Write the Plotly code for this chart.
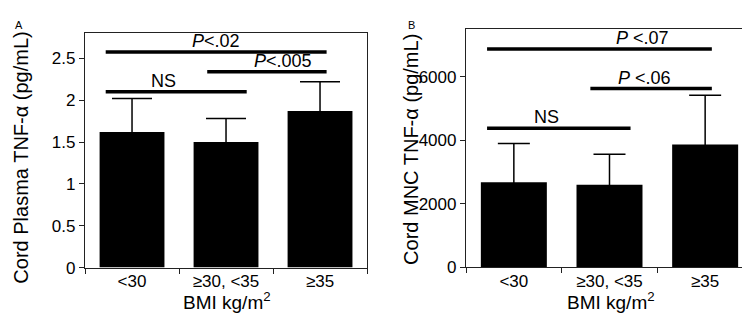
import plotly.graph_objects as go

# ---- data ----
categories = ["<30", "≥30, <35", "≥35"]
plasma_mean = [1.62, 1.50, 1.87]
plasma_err = [0.40, 0.28, 0.35]
mnc_mean = [2680, 2600, 3870]
mnc_err = [1220, 960, 1550]

plasma_bracket_labels = ["<i>P</i>&lt;.02", "<i>P</i>&lt;.005", "NS"]
plasma_bracket_heights = [2.575, 2.34, 2.10]
mnc_bracket_labels = ["<i>P</i> &lt;.07", "<i>P</i> &lt;.06", "NS"]
mnc_bracket_heights = [6880, 5630, 4380]

# bracket spans (category-index units) and label x positions
bracket_spans = [(-0.28, 2.07), (0.80, 2.07), (-0.28, 1.22)]
plasma_label_x = [0.89, 1.61, 0.33]
mnc_label_x = [1.34, 1.37, 0.34]

FONT = "Liberation Sans, Arial, Helvetica, sans-serif"

fig = go.Figure()
fig.add_trace(go.Bar(
    x=categories, y=plasma_mean, width=0.69, marker=dict(color="black", line=dict(width=0)),
    error_y=dict(type="data", array=plasma_err, symmetric=True,
                 color="black", thickness=1.5, width=20),
    xaxis="x", yaxis="y", showlegend=False))
fig.add_trace(go.Bar(
    x=categories, y=mnc_mean, width=0.69, marker=dict(color="black", line=dict(width=0)),
    error_y=dict(type="data", array=mnc_err, symmetric=True,
                 color="black", thickness=1.5, width=16),
    xaxis="x2", yaxis="y2", showlegend=False))

axis_common = dict(showline=True, linecolor="#222", linewidth=1.3, mirror=True,
                   ticks="outside", ticklen=5, tickwidth=1, tickcolor="#222",
                   showgrid=False, zeroline=False,
                   tickfont=dict(family=FONT, size=17, color="black"))

fig.update_layout(
    width=750, height=318,
    margin=dict(l=0, r=0, t=0, b=0),
    paper_bgcolor="white", plot_bgcolor="white",
    xaxis=dict(domain=[0.1027, 0.4787], anchor="y", type="category",
               tickson="boundaries", range=[-0.5, 2.5], ticklabelstandoff=-2, **axis_common),
    yaxis=dict(domain=[0.1572, 0.9182], anchor="x", range=[0, 2.80], dtick=0.5,
               **axis_common),
    xaxis2=dict(domain=[0.6107, 0.9933], anchor="y2", type="category",
                tickson="boundaries", range=[-0.5, 2.5], ticklabelstandoff=-2, **axis_common),
    yaxis2=dict(domain=[0.1585, 0.9308], anchor="x2", range=[0, 7500], dtick=2000,
                tickformat="d", **axis_common),
)

shapes = []
annotations = []
for (xr, yr, labels, heights, lx) in [
    ("x", "y", plasma_bracket_labels, plasma_bracket_heights, plasma_label_x),
    ("x2", "y2", mnc_bracket_labels, mnc_bracket_heights, mnc_label_x),
]:
    for (x0, x1), lab, h, tx in zip(bracket_spans, labels, heights, lx):
        shapes.append(dict(type="line", xref=xr, yref=yr, x0=x0, x1=x1, y0=h, y1=h,
                           line=dict(color="black", width=3.5)))
        annotations.append(dict(xref=xr, yref=yr, x=tx, y=h, text=lab, showarrow=False,
                                yanchor="middle", yshift=11,
                                font=dict(family=FONT, size=18, color="black")))

# axis titles and panel letters
annotations += [
    dict(xref="paper", yref="paper", x=13.5 / 750, y=1 - 155 / 318, text="Cord Plasma TNF-α (pg/mL)",
         textangle=-90, showarrow=False, xanchor="center", yanchor="middle",
         font=dict(family=FONT, size=20, color="black")),
    dict(xref="paper", yref="paper", x=403.5 / 750, y=1 - 146 / 318, text="Cord MNC TNF-α (pg/mL)",
         textangle=-90, showarrow=False, xanchor="center", yanchor="middle",
         font=dict(family=FONT, size=20, color="black")),
    dict(xref="paper", yref="paper", x=219 / 750, y=1 - 302 / 318, text="BMI kg/m<sup>2</sup>",
         showarrow=False, xanchor="center", yanchor="middle",
         font=dict(family=FONT, size=19, color="black")),
    dict(xref="paper", yref="paper", x=603 / 750, y=1 - 302 / 318, text="BMI kg/m<sup>2</sup>",
         showarrow=False, xanchor="center", yanchor="middle",
         font=dict(family=FONT, size=19, color="black")),
    dict(xref="paper", yref="paper", x=10.5 / 750, y=1 - 17.5 / 318, text="A",
         showarrow=False, xanchor="center", yanchor="middle",
         font=dict(family=FONT, size=11, color="black")),
    dict(xref="paper", yref="paper", x=404 / 750, y=1 - 17.5 / 318, text="B",
         showarrow=False, xanchor="center", yanchor="middle",
         font=dict(family=FONT, size=11, color="black")),
]

fig.update_layout(shapes=shapes, annotations=annotations)
fig.write_html("out.html")
